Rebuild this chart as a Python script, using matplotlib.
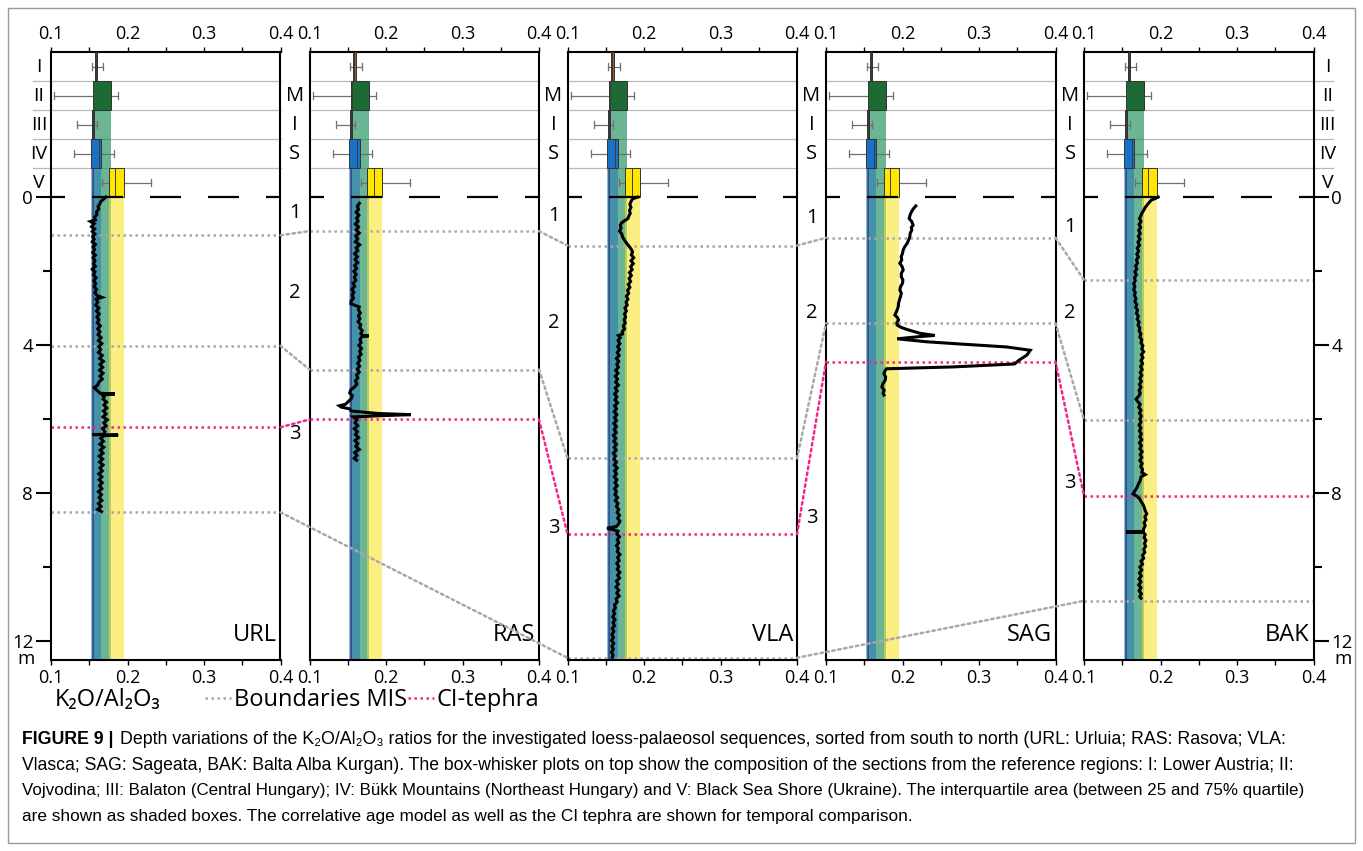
import matplotlib
matplotlib.use('Agg')
import matplotlib.pyplot as plt
from matplotlib.patches import Rectangle, ConnectionPatch
from matplotlib.lines import Line2D
from matplotlib import font_manager

W, H, DPI = 1363, 851, 100

# ------------------------------------------------------------------ data
sites = ['URL', 'RAS', 'VLA', 'SAG', 'BAK']

url_depth = [0.00, 0.05, 0.12, 0.18, 0.25, 0.32, 0.40, 0.47, 0.55, 0.62, 0.66, 0.72, 0.80, 0.86, 0.93,
             1.00, 1.07, 1.14, 1.21, 1.28, 1.35, 1.42, 1.50, 1.57, 1.64, 1.72, 1.80, 1.87, 1.95, 2.02,
             2.10, 2.18, 2.26, 2.34, 2.42, 2.50, 2.58, 2.66, 2.71, 2.76, 2.84, 2.92, 3.00, 3.08, 3.16,
             3.24, 3.32, 3.40, 3.48, 3.56, 3.64, 3.72, 3.80, 3.88, 3.96, 4.04, 4.12, 4.20, 4.28, 4.36,
             4.44, 4.52, 4.60, 4.68, 4.76, 4.84, 4.92, 5.00, 5.08, 5.15, 5.22, 5.30, 5.32, 5.34, 5.38,
             5.46, 5.54, 5.62, 5.70, 5.78, 5.86, 5.94, 6.02, 6.10, 6.18, 6.26, 6.34, 6.41, 6.42, 6.43,
             6.45, 6.52, 6.60, 6.68, 6.76, 6.84, 6.92, 7.00, 7.08, 7.16, 7.24, 7.32, 7.40, 7.48, 7.56,
             7.64, 7.72, 7.80, 7.88, 7.96, 8.04, 8.12, 8.20, 8.28, 8.36, 8.44, 8.50]
url_ratio = [0.1717, 0.1690, 0.1650, 0.1640, 0.1615, 0.1625, 0.1595, 0.1600, 0.1570, 0.1580, 0.1515,
             0.1565, 0.1530, 0.1570, 0.1540, 0.1575, 0.1545, 0.1565, 0.1540, 0.1580, 0.1550, 0.1570,
             0.1545, 0.1580, 0.1550, 0.1575, 0.1555, 0.1580, 0.1540, 0.1575, 0.1555, 0.1590, 0.1560,
             0.1585, 0.1565, 0.1595, 0.1575, 0.1600, 0.1665, 0.1590, 0.1610, 0.1585, 0.1625, 0.1595,
             0.1630, 0.1600, 0.1625, 0.1605, 0.1645, 0.1610, 0.1640, 0.1615, 0.1655, 0.1620, 0.1665,
             0.1625, 0.1650, 0.1620, 0.1670, 0.1635, 0.1685, 0.1640, 0.1675, 0.1635, 0.1680, 0.1640,
             0.1670, 0.1625, 0.1610, 0.1565, 0.1600, 0.1640, 0.1835, 0.1660, 0.1700, 0.1680, 0.1725,
             0.1690, 0.1730, 0.1685, 0.1720, 0.1680, 0.1735, 0.1690, 0.1720, 0.1675, 0.1705, 0.1690,
             0.1543, 0.1878, 0.1690, 0.1650, 0.1685, 0.1640, 0.1690, 0.1645, 0.1680, 0.1630, 0.1675,
             0.1635, 0.1680, 0.1640, 0.1670, 0.1625, 0.1665, 0.1630, 0.1670, 0.1635, 0.1665, 0.1620,
             0.1660, 0.1630, 0.1665, 0.1620, 0.1655, 0.1610, 0.1660]

ras_depth = [0.17, 0.25, 0.33, 0.41, 0.49, 0.57, 0.65, 0.73, 0.81, 0.89, 0.97, 1.05, 1.13, 1.21, 1.29,
             1.37, 1.45, 1.53, 1.61, 1.69, 1.77, 1.85, 1.93, 2.01, 2.09, 2.17, 2.25, 2.33, 2.41, 2.49,
             2.57, 2.65, 2.73, 2.81, 2.88, 2.93, 2.97, 3.05, 3.13, 3.21, 3.29, 3.37, 3.45, 3.53, 3.61,
             3.69, 3.74, 3.75, 3.77, 3.85, 3.93, 4.01, 4.09, 4.17, 4.25, 4.33, 4.41, 4.49, 4.57, 4.65,
             4.73, 4.81, 4.89, 4.97, 5.05, 5.13, 5.21, 5.29, 5.37, 5.45, 5.53, 5.60, 5.64, 5.68, 5.72,
             5.78, 5.82, 5.85, 5.88, 5.91, 5.94, 6.02, 6.10, 6.18, 6.26, 6.34, 6.42, 6.50, 6.58, 6.66,
             6.74, 6.82, 6.90, 6.98, 7.06, 7.11]
ras_ratio = [0.1652, 0.1625, 0.1640, 0.1610, 0.1645, 0.1615, 0.1635, 0.1600, 0.1640, 0.1610, 0.1650,
             0.1605, 0.1630, 0.1600, 0.1655, 0.1610, 0.1630, 0.1590, 0.1625, 0.1595, 0.1630, 0.1590,
             0.1615, 0.1580, 0.1610, 0.1585, 0.1605, 0.1570, 0.1590, 0.1555, 0.1580, 0.1560, 0.1575,
             0.1545, 0.1540, 0.1600, 0.1650, 0.1640, 0.1665, 0.1640, 0.1660, 0.1635, 0.1670, 0.1655,
             0.1690, 0.1670, 0.1696, 0.1774, 0.1687, 0.1660, 0.1675, 0.1645, 0.1680, 0.1655, 0.1675,
             0.1640, 0.1660, 0.1630, 0.1655, 0.1625, 0.1650, 0.1615, 0.1630, 0.1600, 0.1620, 0.1590,
             0.1540, 0.1525, 0.1560, 0.1545, 0.1505, 0.1470, 0.1391, 0.1420, 0.1520, 0.1545, 0.1740,
             0.1913, 0.2326, 0.1913, 0.1574, 0.1620, 0.1595, 0.1630, 0.1585, 0.1625, 0.1600, 0.1640,
             0.1595, 0.1630, 0.1605, 0.1650, 0.1590, 0.1620, 0.1585, 0.1615]

vla_depth = [0.00, 0.05, 0.12, 0.20, 0.28, 0.36, 0.44, 0.52, 0.58, 0.64, 0.70, 0.76, 0.84, 0.92, 1.00,
             1.08, 1.16, 1.24, 1.32, 1.40, 1.48, 1.56, 1.64, 1.72, 1.80, 1.88, 1.96, 2.04, 2.12, 2.20,
             2.28, 2.36, 2.44, 2.52, 2.60, 2.68, 2.76, 2.84, 2.92, 3.00, 3.08, 3.16, 3.24, 3.32, 3.40,
             3.48, 3.56, 3.64, 3.70, 3.74, 3.80, 3.88, 3.96, 4.04, 4.12, 4.20, 4.28, 4.36, 4.44, 4.52,
             4.60, 4.68, 4.76, 4.84, 4.92, 5.00, 5.08, 5.16, 5.24, 5.32, 5.40, 5.48, 5.56, 5.64, 5.72,
             5.80, 5.88, 5.96, 6.04, 6.12, 6.20, 6.28, 6.36, 6.44, 6.52, 6.60, 6.68, 6.76, 6.84, 6.92,
             7.00, 7.08, 7.16, 7.24, 7.32, 7.40, 7.48, 7.56, 7.64, 7.72, 7.80, 7.88, 7.96, 8.04, 8.12,
             8.20, 8.28, 8.36, 8.44, 8.52, 8.60, 8.68, 8.76, 8.84, 8.90, 8.95, 8.99, 9.03, 9.10, 9.18,
             9.26, 9.34, 9.42, 9.50, 9.58, 9.66, 9.74, 9.82, 9.90, 9.98, 10.06, 10.14, 10.22, 10.30,
             10.38, 10.46, 10.54, 10.62, 10.70, 10.78, 10.86, 10.94, 11.02, 11.10, 11.18, 11.26, 11.34,
             11.42, 11.50, 11.58, 11.66, 11.74, 11.82, 11.90, 11.98, 12.06, 12.14, 12.22, 12.30, 12.38,
             12.44]
vla_ratio = [0.1917, 0.1850, 0.1830, 0.1815, 0.1830, 0.1810, 0.1820, 0.1800, 0.1790, 0.1745, 0.1705,
             0.1690, 0.1700, 0.1680, 0.1710, 0.1720, 0.1745, 0.1770, 0.1800, 0.1830, 0.1850, 0.1835,
             0.1865, 0.1830, 0.1860, 0.1825, 0.1845, 0.1810, 0.1835, 0.1805, 0.1825, 0.1795, 0.1815,
             0.1785, 0.1800, 0.1770, 0.1790, 0.1765, 0.1780, 0.1750, 0.1770, 0.1745, 0.1760, 0.1740,
             0.1755, 0.1730, 0.1745, 0.1715, 0.1720, 0.1665, 0.1690, 0.1660, 0.1685, 0.1655, 0.1680,
             0.1650, 0.1675, 0.1640, 0.1670, 0.1645, 0.1665, 0.1630, 0.1660, 0.1625, 0.1655, 0.1630,
             0.1665, 0.1625, 0.1650, 0.1615, 0.1645, 0.1620, 0.1655, 0.1615, 0.1640, 0.1610, 0.1645,
             0.1615, 0.1640, 0.1605, 0.1640, 0.1610, 0.1635, 0.1600, 0.1630, 0.1605, 0.1640, 0.1610,
             0.1635, 0.1600, 0.1625, 0.1605, 0.1640, 0.1610, 0.1650, 0.1615, 0.1640, 0.1610, 0.1645,
             0.1620, 0.1650, 0.1615, 0.1640, 0.1620, 0.1655, 0.1625, 0.1660, 0.1640, 0.1670, 0.1650,
             0.1680, 0.1655, 0.1685, 0.1665, 0.1640, 0.1517, 0.1600, 0.1660, 0.1645, 0.1680, 0.1650,
             0.1670, 0.1640, 0.1665, 0.1650, 0.1685, 0.1655, 0.1675, 0.1645, 0.1670, 0.1650, 0.1685,
             0.1655, 0.1680, 0.1640, 0.1665, 0.1635, 0.1670, 0.1645, 0.1675, 0.1635, 0.1650, 0.1615,
             0.1625, 0.1600, 0.1615, 0.1590, 0.1620, 0.1595, 0.1615, 0.1585, 0.1605, 0.1580, 0.1600,
             0.1575, 0.1605, 0.1580, 0.1600, 0.1575, 0.1595, 0.1585]

sag_depth = [0.24, 0.32, 0.40, 0.48, 0.58, 0.66, 0.76, 0.82, 0.89, 0.98, 1.07, 1.16, 1.25, 1.34, 1.43,
             1.52, 1.61, 1.70, 1.79, 1.88, 1.97, 2.06, 2.15, 2.24, 2.33, 2.42, 2.51, 2.60, 2.69, 2.78,
             2.87, 2.96, 3.05, 3.12, 3.19, 3.26, 3.32, 3.40, 3.46, 3.52, 3.58, 3.68, 3.74, 3.77, 3.83,
             3.91, 3.97, 4.05, 4.14, 4.27, 4.41, 4.51, 4.59, 4.64, 4.70, 4.77, 4.86, 4.95, 5.04, 5.13,
             5.22, 5.30, 5.35]
sag_ratio = [0.2174, 0.2140, 0.2117, 0.2100, 0.2087, 0.2120, 0.2139, 0.2115, 0.2122, 0.2100, 0.2096,
             0.2080, 0.2061, 0.2030, 0.2009, 0.2000, 0.1983, 0.1990, 0.1965, 0.1995, 0.2009, 0.1985,
             0.1983, 0.2005, 0.2000, 0.1975, 0.1965, 0.1985, 0.1974, 0.1960, 0.1948, 0.1945, 0.1930,
             0.1915, 0.1900, 0.1935, 0.1948, 0.1925, 0.1930, 0.1980, 0.2061, 0.2226, 0.2422, 0.2226,
             0.1930, 0.2313, 0.2748, 0.3357, 0.3670, 0.3626, 0.3522, 0.3465, 0.2661, 0.1791, 0.1770,
             0.1757, 0.1780, 0.1774, 0.1745, 0.1730, 0.1760, 0.1745, 0.1757]

bak_depth = [0.00, 0.04, 0.08, 0.14, 0.20, 0.28, 0.36, 0.44, 0.50, 0.58, 0.66, 0.74, 0.82, 0.90, 0.98,
             1.06, 1.14, 1.22, 1.30, 1.38, 1.46, 1.54, 1.62, 1.70, 1.78, 1.86, 1.94, 2.02, 2.10, 2.18,
             2.26, 2.34, 2.42, 2.50, 2.58, 2.66, 2.74, 2.82, 2.90, 2.98, 3.06, 3.14, 3.22, 3.30, 3.38,
             3.46, 3.54, 3.62, 3.70, 3.78, 3.86, 3.94, 4.02, 4.10, 4.18, 4.26, 4.34, 4.42, 4.50, 4.58,
             4.66, 4.74, 4.82, 4.90, 4.98, 5.06, 5.14, 5.22, 5.30, 5.38, 5.46, 5.52, 5.60, 5.68, 5.76,
             5.84, 5.92, 6.00, 6.08, 6.16, 6.24, 6.32, 6.40, 6.48, 6.56, 6.64, 6.72, 6.80, 6.88, 6.96,
             7.04, 7.12, 7.20, 7.28, 7.36, 7.44, 7.50, 7.56, 7.66, 7.76, 7.86, 7.94, 8.02, 8.08, 8.16,
             8.24, 8.32, 8.40, 8.48, 8.56, 8.64, 8.72, 8.80, 8.88, 8.96, 9.04, 9.05, 9.06, 9.12, 9.20,
             9.28, 9.36, 9.44, 9.52, 9.60, 9.68, 9.76, 9.84, 9.92, 10.00, 10.08, 10.16, 10.24, 10.32,
             10.40, 10.48, 10.56, 10.64, 10.72, 10.80, 10.84]
bak_ratio = [0.1970, 0.1930, 0.1880, 0.1855, 0.1830, 0.1800, 0.1780, 0.1755, 0.1745, 0.1725, 0.1745,
             0.1720, 0.1740, 0.1715, 0.1735, 0.1710, 0.1730, 0.1705, 0.1725, 0.1695, 0.1715, 0.1690,
             0.1710, 0.1685, 0.1700, 0.1675, 0.1690, 0.1665, 0.1685, 0.1660, 0.1670, 0.1650, 0.1665,
             0.1650, 0.1670, 0.1660, 0.1680, 0.1665, 0.1690, 0.1675, 0.1700, 0.1685, 0.1710, 0.1695,
             0.1720, 0.1705, 0.1730, 0.1720, 0.1745, 0.1730, 0.1755, 0.1745, 0.1770, 0.1755, 0.1780,
             0.1750, 0.1770, 0.1745, 0.1765, 0.1740, 0.1760, 0.1735, 0.1755, 0.1730, 0.1750, 0.1725,
             0.1745, 0.1720, 0.1735, 0.1715, 0.1680, 0.1700, 0.1735, 0.1715, 0.1745, 0.1725, 0.1750,
             0.1730, 0.1745, 0.1720, 0.1745, 0.1725, 0.1750, 0.1730, 0.1755, 0.1725, 0.1750, 0.1730,
             0.1760, 0.1735, 0.1755, 0.1730, 0.1760, 0.1740, 0.1765, 0.1755, 0.1800, 0.1745, 0.1735,
             0.1710, 0.1690, 0.1665, 0.1640, 0.1690, 0.1730, 0.1750, 0.1775, 0.1790, 0.1800, 0.1820,
             0.1795, 0.1810, 0.1785, 0.1800, 0.1780, 0.1774, 0.1548, 0.1774, 0.1800, 0.1785, 0.1810,
             0.1790, 0.1805, 0.1780, 0.1795, 0.1765, 0.1780, 0.1745, 0.1765, 0.1730, 0.1755, 0.1725,
             0.1750, 0.1720, 0.1745, 0.1715, 0.1745, 0.1720, 0.1750, 0.1730, 0.1745]

depths = [url_depth, ras_depth, vla_depth, sag_depth, bak_depth]
ratios = [url_ratio, ras_ratio, vla_ratio, sag_ratio, bak_ratio]

# reference regions (box-whisker)
ref_regions = ['I', 'II', 'III', 'IV', 'V']
ref_min = [0.1530, 0.1043, 0.1340, 0.1305, 0.1670]
ref_q1 = [0.1570, 0.1548, 0.1530, 0.1517, 0.1752]
ref_med = [0.1587, 0.1555, 0.1545, 0.1626, 0.1843]
ref_q3 = [0.1604, 0.1779, 0.1560, 0.1657, 0.1952]
ref_max = [0.1680, 0.1870, 0.1600, 0.1820, 0.2313]

# correlation lines (depth in m per site, None = not reached)
mis_1_2 = [1.03, 0.92, 1.31, 1.10, 2.24]
mis_2_3 = [4.02, 4.66, 7.06, 3.41, 6.03]
mis_3_4 = [8.52, None, 12.45, None, 10.91]
ci_tephra = [6.22, 6.01, 9.11, 4.45, 8.07]

# MIS stage labels in the gaps between panels (depth of labels '1','2','3')
mis_stage_labels = ['1', '2', '3']
mis_stage_depths = [[0.43, 2.59, 6.40], [0.51, 3.40, 8.95], [0.57, 3.14, 8.68], [0.81, 3.14, 7.73]]

depth_ticks = [0, 4, 8, 12]
depth_minor = [2, 6, 10]
x_ticks = [0.1, 0.2, 0.3, 0.4]
x_ticklabels = ['0.1', '0.2', '0.3', '0.4']
x_minor = [0.15, 0.25, 0.35]

# ------------------------------------------------------------------ style
avail = {f.name for f in font_manager.fontManager.ttflist}
MAIN = ['Open Sans', 'DejaVu Sans']
CAP = ['Liberation Sans Narrow', 'DejaVu Sans'] if 'Liberation Sans Narrow' in avail \
    else ['Liberation Sans', 'DejaVu Sans']
plt.rcParams['font.family'] = MAIN

box_face = ['#9c5b1f', '#1d6a34', '#1e2a6c', '#1a72c8', '#ffe500']
band_color = ['#9c5b1f', '#1c8d5b', '#1b2a6e', '#1f6fc0', '#f9e21e']
band_alpha = [0.0, 0.65, 0.6, 0.5, 0.55]
band_order = [1, 3, 2, 4, 0]
GRAY = '#a8a8a8'
PINK = '#f0288c'
DOT = (0, (1.0, 1.4))

ROW_H = 0.784          # height of one box row (m-equivalent)
Y_TOP = -5 * ROW_H
Y_BOT = 12.51

lefts = [51, 309.5, 567.5, 826, 1084]
PW = 229.5
ax_bottom_px, ax_top_px = 660, 52

fig = plt.figure(figsize=(W / DPI, H / DPI), dpi=DPI)
axes = []
for i, site in enumerate(sites):
    ax = fig.add_axes([lefts[i] / W, 1 - ax_bottom_px / H, PW / W, (ax_bottom_px - ax_top_px) / H])
    axes.append(ax)
    ax.set_xlim(0.1, 0.4)
    ax.set_ylim(Y_BOT, Y_TOP)
    for s in ax.spines.values():
        s.set_linewidth(1.5)
        s.set_color('black')

    # row separators
    x_left = 0.1 - (18 / PW) * 0.3 if i == 0 else 0.1
    x_right = 0.4 + (19 / PW) * 0.3 if i == 4 else 0.4
    for r in range(1, 5):
        yb = Y_TOP + r * ROW_H
        ax.plot([x_left, x_right], [yb, yb], color='#b8b8b8', lw=0.9, zorder=1, clip_on=False)

    # interquartile bands
    for k in band_order:
        if band_alpha[k] <= 0:
            continue
        row_bottom = Y_TOP + (k + 1) * ROW_H
        ax.add_patch(Rectangle((ref_q1[k], row_bottom), ref_q3[k] - ref_q1[k], Y_BOT - row_bottom,
                               facecolor=band_color[k], alpha=band_alpha[k], lw=0, zorder=1.5))

    # box-whisker plots
    for k in range(5):
        top = Y_TOP + k * ROW_H
        yc = top + ROW_H / 2
        ax.plot([ref_min[k], ref_max[k]], [yc, yc], color='#707070', lw=0.9, zorder=2.5)
        for xv in (ref_min[k], ref_max[k]):
            ax.plot([xv, xv], [yc - 0.09, yc + 0.09], color='#707070', lw=0.9, zorder=2.5)
        ax.add_patch(Rectangle((ref_q1[k], top), ref_q3[k] - ref_q1[k], ROW_H,
                               facecolor=box_face[k], edgecolor='#333333', lw=0.7, zorder=3))
        ax.plot([ref_med[k], ref_med[k]], [top, top + ROW_H], color='#3a3a3a', lw=0.7, zorder=3.1)

    # zero line
    ax.axhline(0, color='black', lw=1.6, linestyle=(7.65, (13.95, 12.15)), zorder=3.5)

    # correlation lines within panel
    for series, col in ((mis_1_2, GRAY), (mis_2_3, GRAY), (mis_3_4, GRAY), (ci_tephra, PINK)):
        if series[i] is not None:
            ax.plot([0.1, 0.4], [series[i], series[i]], color=col, lw=1.8, linestyle=DOT,
                    zorder=2, clip_on=False)

    # data curve
    ax.plot(ratios[i], depths[i], color='black', lw=2.2, zorder=4, solid_joinstyle='miter')

    # ticks
    ax.set_xticks(x_ticks)
    ax.set_xticklabels(x_ticklabels)
    ax.set_xticks(x_minor, minor=True)
    ax.tick_params(axis='x', which='both', direction='out', top=True, bottom=True,
                   labeltop=True, labelbottom=True, length=3.6, width=1.0, labelsize=13, pad=3)
    if i == 0 or i == 4:
        ax.set_yticks(depth_ticks)
        ax.set_yticklabels([str(t) for t in depth_ticks])
        ax.set_yticks(depth_minor, minor=True)
        side_left = (i == 0)
        ax.tick_params(axis='y', which='both', direction='out', left=side_left, right=not side_left,
                       labelleft=side_left, labelright=not side_left, labelsize=13.5, width=1.5, pad=2)
        ax.tick_params(axis='y', which='major', length=10.8)
        ax.tick_params(axis='y', which='minor', length=5.8)
    else:
        ax.set_yticks([])

    # panel name
    ax.text(0.3948, 11.84, site, ha='right', va='center', fontsize=17, zorder=5)

# region labels left / right
for k, lab in enumerate(ref_regions):
    yc = Y_TOP + (k + 0.5) * ROW_H
    axes[0].text(0.1 - 0.3 * 12 / PW, yc, lab, ha='center', va='center', fontsize=14, clip_on=False)
    axes[4].text(0.4 + 0.3 * 14 / PW, yc, lab, ha='center', va='center', fontsize=14, clip_on=False)

# 'm' unit labels
axes[0].text(0.1 - 0.3 * 25 / PW, 12.48, 'm', ha='center', va='center', fontsize=13.5, clip_on=False)
axes[4].text(0.4 + 0.3 * 30 / PW, 12.48, 'm', ha='center', va='center', fontsize=13.5, clip_on=False)

# gap labels (MIS)
gap_x = 0.4 + 0.3 * 14.5 / PW
for g in range(4):
    for k, lab in zip([1, 2, 3], ['M', 'I', 'S']):
        yc = Y_TOP + (k + 0.5) * ROW_H
        axes[g].text(gap_x, yc, lab, ha='center', va='center', fontsize=14.5, clip_on=False)
    for lab, d in zip(mis_stage_labels, mis_stage_depths[g]):
        axes[g].text(gap_x, d, lab, ha='center', va='center', fontsize=14.5, clip_on=False)

# connecting lines between panels
for series, col in ((mis_1_2, GRAY), (mis_2_3, GRAY), (mis_3_4, GRAY), (ci_tephra, PINK)):
    pts = [(j, d) for j, d in enumerate(series) if d is not None]
    for (ja, da), (jb, db) in zip(pts[:-1], pts[1:]):
        con = ConnectionPatch(xyA=(0.4, da), coordsA=axes[ja].transData,
                              xyB=(0.1, db), coordsB=axes[jb].transData,
                              color=col, lw=1.8, linestyle=DOT, zorder=6)
        fig.add_artist(con)

# bottom label + legend
fig.text(55 / W, 1 - 700 / H, 'K₂O/Al₂O₃', fontsize=17, ha='left', va='center')
handles = [Line2D([], [], color=GRAY, lw=1.8, linestyle=DOT),
           Line2D([], [], color=PINK, lw=1.8, linestyle=DOT)]
fig.legend(handles, ['Boundaries MIS', 'CI-tephra'], ncol=2, loc='center left',
           bbox_to_anchor=(205 / W, 1 - 700 / H), frameon=False, fontsize=17,
           handlelength=1.1, handletextpad=0.12, columnspacing=0.05, borderpad=0, borderaxespad=0)

# caption
cap_head = 'FIGURE 9 |'
cap_lines = [
    'Depth variations of the K₂O/Al₂O₃ ratios for the investigated loess-palaeosol sequences, sorted from south to north (URL: Urluia; RAS: Rasova; VLA:',
    'Vlasca; SAG: Sageata, BAK: Balta Alba Kurgan). The box-whisker plots on top show the composition of the sections from the reference regions: I: Lower Austria; II:',
    'Vojvodina; III: Balaton (Central Hungary); IV: Bükk Mountains (Northeast Hungary) and V: Black Sea Shore (Ukraine). The interquartile area (between 25 and 75% quartile)',
    'are shown as shaded boxes. The correlative age model as well as the CI tephra are shown for temporal comparison.',
]
cap_y = [740, 765.5, 791, 816.5]
cap_right = [1292, 1297, 1297, 912]     # right end of each caption line (px)
CAP_X0, CAP_GAP = 22, 6

renderer = fig.canvas.get_renderer()
probe_fs = 12.0
t_head = fig.text(CAP_X0 / W, 1 - cap_y[0] / H, cap_head, fontsize=probe_fs, fontweight='bold',
                  family=CAP, ha='left', va='center')
t_first = fig.text(0, 1 - cap_y[0] / H, cap_lines[0], fontsize=probe_fs, family=CAP,
                   ha='left', va='center')
w_head = t_head.get_window_extent(renderer).width
w_first = t_first.get_window_extent(renderer).width
fs0 = probe_fs * (cap_right[0] - CAP_X0 - CAP_GAP) / (w_head + w_first)
t_head.set_fontsize(fs0)
t_first.set_fontsize(fs0)
w_head = t_head.get_window_extent(renderer).width
t_first.set_x((CAP_X0 + w_head + CAP_GAP) / W)
for line, yy, xr in zip(cap_lines[1:], cap_y[1:], cap_right[1:]):
    t = fig.text(CAP_X0 / W, 1 - yy / H, line, fontsize=probe_fs, family=CAP, ha='left', va='center')
    w = t.get_window_extent(renderer).width
    t.set_fontsize(min(fs0 * 1.03, probe_fs * (xr - CAP_X0) / w))

# outer frame
fig.patches.append(Rectangle((8 / W, 8 / H), (1355 - 8) / W, (843 - 8) / H, transform=fig.transFigure,
                             fill=False, edgecolor='#9a9a9a', lw=1.0))

fig.savefig('out.png', dpi=DPI)
